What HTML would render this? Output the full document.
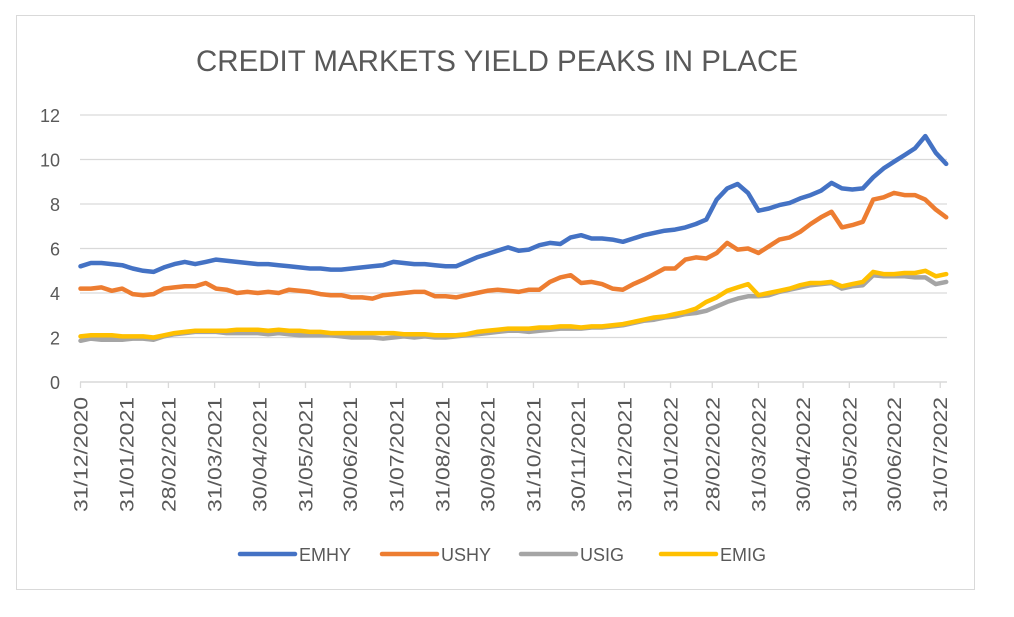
<!DOCTYPE html>
<html><head><meta charset="utf-8"><style>
html,body{margin:0;padding:0;background:#fff;}
body{width:1014px;height:617px;overflow:hidden;position:relative;font-family:"Liberation Sans",sans-serif;}
#frame{position:absolute;left:16px;top:15px;width:959px;height:575px;border:1px solid #d9d9d9;box-sizing:border-box;}
svg{position:absolute;left:0;top:0;}
</style></head><body>
<div id="frame"></div>
<svg id="chart" width="1014" height="617"></svg>
<script>
const tickDays = [0,31,59,90,120,151,181,212,243,273,304,334,365,396,424,455,485,516,546,577];
const tickLabels = ["31/12/2020","31/01/2021","28/02/2021","31/03/2021","30/04/2021","31/05/2021","30/06/2021","31/07/2021","31/08/2021","30/09/2021","31/10/2021","30/11/2021","31/12/2021","31/01/2022","28/02/2022","31/03/2022","30/04/2022","31/05/2022","30/06/2022","31/07/2022"];
const yTicks = [0,2,4,6,8,10,12];
const seriesNames = ["EMHY","USHY","USIG","EMIG"];
const seriesColors = ["#4472c4","#ed7d31","#a5a5a5","#ffc000"];
const emhy = [5.2,5.35,5.35,5.3,5.25,5.1,5.0,4.95,5.15,5.3, 5.4,5.3,5.4,5.5,5.45,5.4,5.35,5.3,5.3,5.25, 5.2,5.15,5.1,5.1,5.05,5.05,5.1,5.15,5.2,5.25, 5.4,5.35,5.3,5.3,5.25,5.2,5.2,5.4,5.6,5.75, 5.9,6.05,5.9,5.95,6.15,6.25,6.2,6.5,6.6,6.45, 6.45,6.4,6.3,6.45,6.6,6.7,6.8,6.85,6.95,7.1, 7.3,8.2,8.7,8.9,8.5,7.7,7.8,7.95,8.05,8.25, 8.4,8.6,8.95,8.7,8.65,8.7,9.2,9.6,9.9,10.2, 10.5,11.05,10.3,9.8];
const ushy = [4.2,4.2,4.25,4.1,4.2,3.95,3.9,3.95,4.2,4.25, 4.3,4.3,4.45,4.2,4.15,4.0,4.05,4.0,4.05,4.0, 4.15,4.1,4.05,3.95,3.9,3.9,3.8,3.8,3.75,3.9, 3.95,4.0,4.05,4.05,3.85,3.85,3.8,3.9,4.0,4.1, 4.15,4.1,4.05,4.15,4.15,4.5,4.7,4.8,4.45,4.5, 4.4,4.2,4.15,4.4,4.6,4.85,5.1,5.1,5.5,5.6, 5.55,5.8,6.25,5.95,6.0,5.8,6.1,6.4,6.5,6.75, 7.1,7.4,7.65,6.95,7.05,7.2,8.2,8.3,8.5,8.4, 8.4,8.2,7.75,7.4];
const usig = [1.85,1.95,1.9,1.9,1.9,1.95,1.95,1.9,2.05,2.15, 2.2,2.25,2.25,2.25,2.2,2.2,2.2,2.2,2.15,2.2, 2.15,2.1,2.1,2.1,2.1,2.05,2.0,2.0,2.0,1.95, 2.0,2.05,2.0,2.05,2.0,2.0,2.05,2.1,2.15,2.2, 2.25,2.3,2.3,2.25,2.3,2.35,2.4,2.4,2.4,2.45, 2.45,2.5,2.55,2.65,2.75,2.8,2.9,2.95,3.05,3.1, 3.2,3.4,3.6,3.75,3.85,3.85,3.9,4.05,4.15,4.25, 4.35,4.4,4.45,4.2,4.3,4.35,4.8,4.75,4.75,4.75, 4.7,4.7,4.4,4.5];
const emig = [2.05,2.1,2.1,2.1,2.05,2.05,2.05,2.0,2.1,2.2, 2.25,2.3,2.3,2.3,2.3,2.35,2.35,2.35,2.3,2.35, 2.3,2.3,2.25,2.25,2.2,2.2,2.2,2.2,2.2,2.2, 2.2,2.15,2.15,2.15,2.1,2.1,2.1,2.15,2.25,2.3, 2.35,2.4,2.4,2.4,2.45,2.45,2.5,2.5,2.45,2.5, 2.5,2.55,2.6,2.7,2.8,2.9,2.95,3.05,3.15,3.3, 3.6,3.8,4.1,4.25,4.4,3.9,4.0,4.1,4.2,4.35, 4.45,4.45,4.5,4.3,4.4,4.5,4.95,4.85,4.85,4.9, 4.9,5.0,4.75,4.85];
const dayStep = 7;

const NS = "http://www.w3.org/2000/svg";
const svg = document.getElementById("chart");
const X0 = 80.5, PXDAY = 1.49, Y0 = 382, PXUNIT = 22.25;
function xScale(d){ return X0 + d*PXDAY; }
function yScale(v){ return Y0 - v*PXUNIT; }
function mk(tag, attrs){ const e=document.createElementNS(NS,tag); for(const k in attrs) e.setAttribute(k,attrs[k]); svg.appendChild(e); return e; }

const title = mk("text",{x:497,y:71,"text-anchor":"middle","font-size":"30","fill":"#595959",textLength:"602",lengthAdjust:"spacingAndGlyphs"});
title.textContent = "CREDIT MARKETS YIELD PEAKS IN PLACE";



yTicks.forEach(v=>{
  if(v>0){
    const g = mk("line",{x1:80,x2:947,y1:yScale(v),y2:yScale(v),stroke:"#d9d9d9","stroke-width":"1.3"});
    
    
  }
  const t = mk("text",{x:60,y:yScale(v)+7,"text-anchor":"end","font-size":"18","fill":"#595959"});
  t.textContent = v;
  
  
});
const axis = mk("line",{x1:80,x2:947,y1:Y0,y2:Y0,stroke:"#d9d9d9","stroke-width":"1.5"});



tickDays.forEach((d,i)=>{
  const x = xScale(d);
  const tk = mk("line",{x1:x,x2:x,y1:Y0,y2:Y0+6,stroke:"#d9d9d9","stroke-width":"1.3"});
  
  
  const t = mk("text",{x:0,y:0,"text-anchor":"end","font-size":"19","fill":"#595959",textLength:"115",lengthAdjust:"spacingAndGlyphs",transform:`translate(${x+7},397) rotate(-90)`});
  t.textContent = tickLabels[i];
  
  
});

const allSeries = [emhy, ushy, usig, emig];
[2,3,1,0].forEach(si=>{
  const vals = allSeries[si];
  const pts = vals.map((v,i)=>xScale(i*dayStep).toFixed(1)+","+yScale(v).toFixed(1)).join(" ");
  const p = mk("polyline",{points:pts,fill:"none",stroke:seriesColors[si],"stroke-width":"4.5","stroke-linejoin":"round","stroke-linecap":"round"});
  
  
});

const legX = [240, 382, 521, 661];
seriesNames.forEach((n,i)=>{
  const l = mk("line",{x1:legX[i],x2:legX[i]+55,y1:554,y2:554,stroke:seriesColors[i],"stroke-width":"4.5","stroke-linecap":"round"});
  
  
  const t = mk("text",{x:legX[i]+59,y:561,"font-size":"18","fill":"#595959"});
  t.textContent = n;
  
  
});
</script>
</body></html>
